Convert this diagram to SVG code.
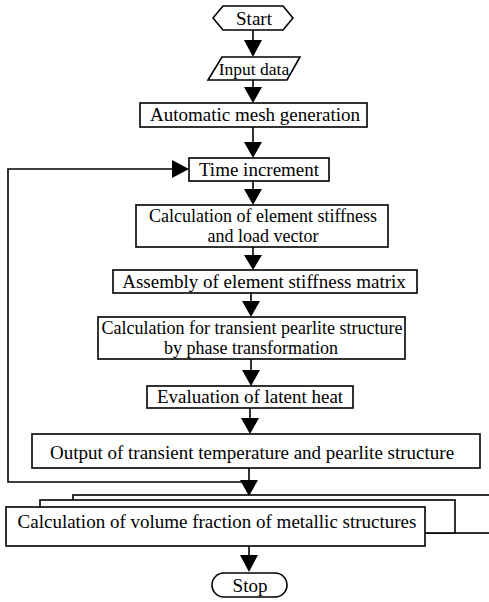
<svg xmlns="http://www.w3.org/2000/svg" width="489" height="602" viewBox="0 0 489 602">
<style>
.b{fill:#fff;stroke:#000;stroke-width:1.6}
.t{font-family:"Liberation Serif","Times New Roman",serif;font-size:19px;fill:#000;text-anchor:middle}
.s{font-size:18px}
.l{fill:none;stroke:#000;stroke-width:1.6}
.h{fill:#000;stroke:none}
</style>
<rect width="489" height="602" fill="#fff"/>
<g id="connectors">
<line class="l" x1="253" y1="30" x2="253" y2="42"/><polygon class="h" points="244,40 262,40 253,57"/>
<line class="l" x1="253" y1="80" x2="253" y2="90"/><polygon class="h" points="244,87 262,87 253,103"/>
<line class="l" x1="253" y1="127" x2="253" y2="145"/><polygon class="h" points="244,142 262,142 253,158"/>
<line class="l" x1="253" y1="181" x2="253" y2="192"/><polygon class="h" points="244,189 262,189 253,205"/>
<line class="l" x1="253" y1="247" x2="253" y2="258"/><polygon class="h" points="244,255 262,255 253,270"/>
<line class="l" x1="251" y1="293" x2="251" y2="304"/><polygon class="h" points="242,301 260,301 251,317"/>
<line class="l" x1="251" y1="359" x2="251" y2="372"/><polygon class="h" points="242,370 260,370 251,386"/>
<line class="l" x1="250" y1="408" x2="250" y2="420"/><polygon class="h" points="241,418 259,418 250,434"/>
<polyline class="l" points="249,482 8,482 8,169 175,169"/><polygon class="h" points="172,160 172,178 189,169"/>
<line class="l" x1="249" y1="468" x2="249" y2="484"/><polygon class="h" points="240,480 258,480 249,496"/>
<line class="l" x1="249" y1="546" x2="249" y2="558"/><polygon class="h" points="240,555 258,555 249,572"/>
</g>
<g id="start"><polygon class="b" points="213,18 223,6 283,6 293,18 283,30 223,30"/><text class="t" x="254" y="25">Start</text></g>
<g id="input"><polygon class="b" points="222,57 300,57 287,80 208,80"/><text class="t" x="254" y="75" style="font-size:17.5px">Input data</text></g>
<g id="mesh"><rect class="b" x="140" y="103" width="227" height="24"/><text class="t" x="255" y="121">Automatic mesh generation</text></g>
<g id="time"><rect class="b" x="189" y="158" width="140" height="23"/><text class="t" x="259" y="176">Time increment</text></g>
<g id="stiffness"><rect class="b" x="136" y="205" width="252" height="42"/><text class="t s" x="263" y="222">Calculation of element stiffness</text><text class="t s" x="263" y="242">and load vector</text></g>
<g id="assembly"><rect class="b" x="113" y="270" width="304" height="23"/><text class="t" x="264" y="288">Assembly of element stiffness matrix</text></g>
<g id="pearlite"><rect class="b" x="98" y="317" width="307" height="42"/><text class="t s" x="252" y="334">Calculation for transient pearlite structure</text><text class="t s" x="251" y="354">by phase transformation</text></g>
<g id="latent"><rect class="b" x="147" y="386" width="206" height="22"/><text class="t" x="250" y="403">Evaluation of latent heat</text></g>
<g id="output"><rect class="b" x="32" y="434" width="448" height="34"/><text class="t" x="252" y="459">Output of transient temperature and pearlite structure</text></g>
<g id="volume">
<rect class="b" x="73" y="495" width="430" height="38"/>
<rect class="b" x="40" y="500" width="415" height="33"/>
<rect class="b" x="6" y="507" width="419" height="39"/>
<text class="t" x="217" y="528">Calculation of volume fraction of metallic structures</text>
</g>
<g id="stop"><rect class="b" x="212" y="573" width="75" height="24" rx="12"/><text class="t" x="250" y="592">Stop</text></g>
</svg>
